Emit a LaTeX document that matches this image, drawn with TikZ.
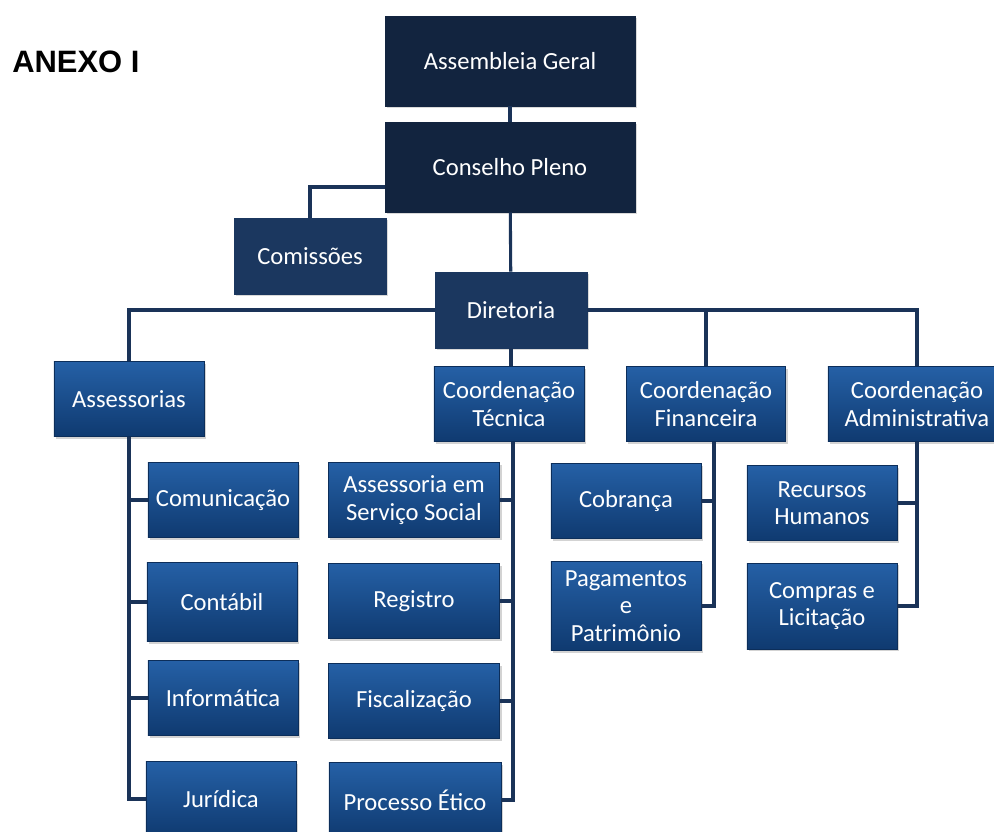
\documentclass[tikz,border=0pt]{standalone}
\usepackage{fontspec}
\setmainfont{Carlito}
\newfontfamily\titlefont{Liberation Sans}
\usetikzlibrary{shadows}
\definecolor{navydark}{HTML}{12243F}
\definecolor{navymid}{HTML}{1B375F}
\definecolor{boxtop}{HTML}{2560A6}
\definecolor{boxbot}{HTML}{0F3A70}
\definecolor{linenavy}{HTML}{1A3358}
\tikzstyle{topbox} = [rectangle, 
minimum width=6.25cm, 
minimum height=2.25cm, 
text centered, 
draw=navydark, fill=navydark, text=white,
font=\fontsize{17.5}{20}\selectfont,
drop shadow={shadow xshift=1.5pt, shadow yshift=-1.5pt, opacity=0.3}]
\tikzstyle{midbox} = [rectangle, 
minimum width=3.8cm, 
minimum height=1.9cm, 
text centered, 
draw=navymid, fill=navymid, text=white,
font=\fontsize{17.5}{20}\selectfont,
drop shadow={shadow xshift=1.5pt, shadow yshift=-1.5pt, opacity=0.3}]
\tikzstyle{unitbox} = [rectangle, 
minimum width=3.75cm, 
minimum height=1.88cm, 
align=center, 
top color=boxtop, bottom color=boxbot, draw=boxbot!80!black, text=white,
font=\fontsize{17.5}{19.5}\selectfont,
drop shadow={shadow xshift=1.5pt, shadow yshift=-1.5pt, opacity=0.35}]
\tikzstyle{conn} = [draw=linenavy, line width=2.2pt]

\begin{document}
\begin{tikzpicture}[x=0.025cm, y=-0.025cm]
\useasboundingbox (0,0) rectangle (994,831);

\node (anexo) [anchor=west, inner sep=0, font=\titlefont\bfseries\fontsize{22}{26}\selectfont] at (12,62) {ANEXO I};

% top of the chart
\node (assembleia) [topbox] at (510,61) {Assembleia Geral};
\node (conselho) [topbox] at (510,167) {Conselho Pleno};
\node (comissoes) [midbox] at (310,256) {Comissões};
\node (diretoria) [midbox] at (511,310) {Diretoria};

% coordinations
\node (assessorias) [unitbox] at (129,399) {Assessorias};
\node (coordtec) [unitbox] at (509,404) {Coordenação\\Técnica};
\node (coordfin) [unitbox, minimum width=3.98cm] at (706,404) {Coordenação\\Financeira};
\node (coordadm) [unitbox, minimum width=4.45cm] at (917,404) {Coordenação\\Administrativa};

% assessorias
\node (comunicacao) [unitbox] at (223,500) {Comunicação};
\node (contabil) [unitbox, minimum height=1.98cm] at (222,602) {Contábil};
\node (informatica) [unitbox] at (223,698) {Informática};
\node (juridica) [unitbox] at (221,799) {Jurídica};

% coordenacao tecnica
\node (servsocial) [unitbox, minimum width=4.28cm] at (414,500) {Assessoria em\\Serviço Social};
\node (registro) [unitbox, minimum width=4.28cm] at (414,601) {Registro};
\node (fiscalizacao) [unitbox, minimum width=4.28cm] at (414,701) {Fiscalização};
\node (etico) [unitbox, minimum width=4.3cm] at (415,800) {Processo Ético};

% coordenacao financeira
\node (cobranca) [unitbox] at (626,501) {Cobrança};
\node (pagamentos) [unitbox, minimum height=2.22cm] at (626,606) {Pagamentos\\e\\Patrimônio};

% coordenacao administrativa
\node (rh) [unitbox] at (822,503) {Recursos\\Humanos};
\node (compras) [unitbox, minimum height=2.15cm] at (822,606) {Compras e\\Licitação};

\draw [conn] (assembleia) -- (conselho);
\draw [conn] ([yshift=-0.5cm]conselho.west) -| (comissoes);
\draw [conn] (conselho) -- (diretoria);
\draw [conn] (diretoria.west) -| (assessorias);
\draw [conn] (diretoria.south) -- (diretoria.south |- coordtec.north);
\draw [conn] (diretoria.east) -| (coordfin);
\draw [conn] (diretoria.east) -| (coordadm);

\draw [conn] (assessorias.south) |- (comunicacao.west);
\draw [conn] (assessorias.south) |- (contabil.west);
\draw [conn] (assessorias.south) |- (informatica.west);
\draw [conn] (assessorias.south) |- (juridica.west);

\draw [conn] ([xshift=0.1cm]coordtec.south) |- (servsocial.east);
\draw [conn] ([xshift=0.1cm]coordtec.south) |- (registro.east);
\draw [conn] ([xshift=0.1cm]coordtec.south) |- (fiscalizacao.east);
\draw [conn] ([xshift=0.1cm]coordtec.south) |- (etico.east);

\draw [conn] ([xshift=0.2cm]coordfin.south) |- (cobranca.east);
\draw [conn] ([xshift=0.2cm]coordfin.south) |- (pagamentos.east);

\draw [conn] (coordadm.south) |- (rh.east);
\draw [conn] (coordadm.south) |- (compras.east);

\end{tikzpicture}
\end{document}
